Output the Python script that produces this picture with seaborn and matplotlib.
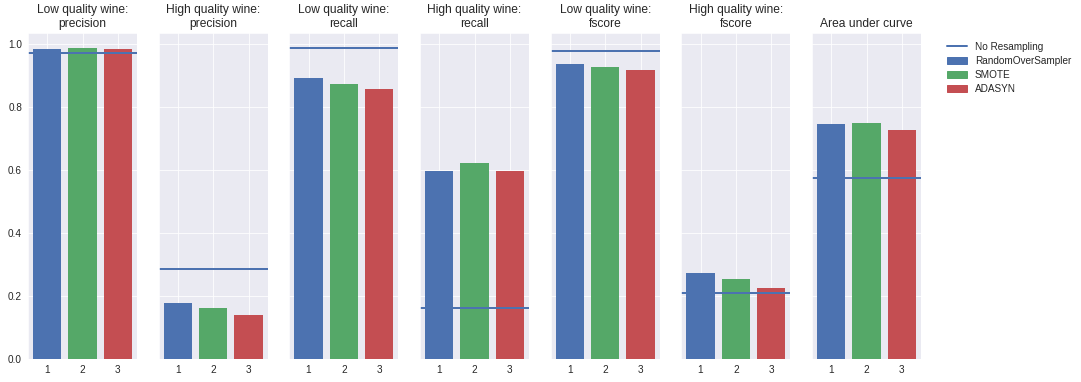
import pandas as pd
import seaborn as sns
import matplotlib.pyplot as plt
from matplotlib.lines import Line2D
from matplotlib.patches import Patch

# values
titles = ["Low quality wine:\nprecision", "High quality wine:\nprecision",
          "Low quality wine:\nrecall", "High quality wine:\nrecall",
          "Low quality wine:\nfscore", "High quality wine:\nfscore",
          "Area under curve"]
methods = ["RandomOverSampler", "SMOTE", "ADASYN"]
positions = [1, 2, 3]
random_over = [0.982, 0.177, 0.890, 0.595, 0.934, 0.272, 0.744]
smote = [0.985, 0.162, 0.871, 0.621, 0.925, 0.253, 0.748]
adasyn = [0.982, 0.139, 0.855, 0.595, 0.915, 0.225, 0.725]
no_resampling = [0.970, 0.286, 0.986, 0.163, 0.977, 0.210, 0.574]

colors = ["#4C72B0", "#55A868", "#C44E52"]

sns.set_style("darkgrid")
plt.rcParams['font.family'] = ['Liberation Sans', 'DejaVu Sans']
plt.rcParams['xtick.labelsize'] = 10
plt.rcParams['ytick.labelsize'] = 10

fig, axes = plt.subplots(1, 7, sharey=True, figsize=(1081 / 72, 382 / 72), dpi=72)
fig.subplots_adjust(left=0.026, right=0.852, bottom=0.06, top=0.914, wspace=0.2)

for i, ax in enumerate(axes):
    df = pd.DataFrame({
        "pos": positions,
        "score": [random_over[i], smote[i], adasyn[i]],
        "method": methods,
    })
    sns.barplot(data=df, x="pos", y="score", hue="method", palette=colors,
                native_scale=True, dodge=False, legend=False, ax=ax,
                saturation=1, width=0.8, linewidth=0, edgecolor="none")
    ax.axhline(no_resampling[i], color=colors[0], lw=2)
    ax.set_title(titles[i], fontsize=12, color="#262626")
    ax.set_xlabel("")
    ax.set_ylabel("")
    ax.set_xticks(positions)
    ax.set_xticklabels([str(p) for p in positions])
    ax.tick_params(length=0, pad=6, colors="#262626")
    ax.margins(x=0.05)

axes[0].set_ylim(0, 1.034)
axes[0].set_yticks([0.0, 0.2, 0.4, 0.6, 0.8, 1.0])

handles = [Line2D([], [], color=colors[0], lw=2)] + [Patch(color=c) for c in colors]
labels = ["No Resampling"] + methods
axes[-1].legend(handles, labels, bbox_to_anchor=(1.2, 0.985), loc="upper left",
                borderaxespad=0., frameon=False, fontsize=10, labelspacing=0.4)

fig.savefig("out.png", dpi=72)
